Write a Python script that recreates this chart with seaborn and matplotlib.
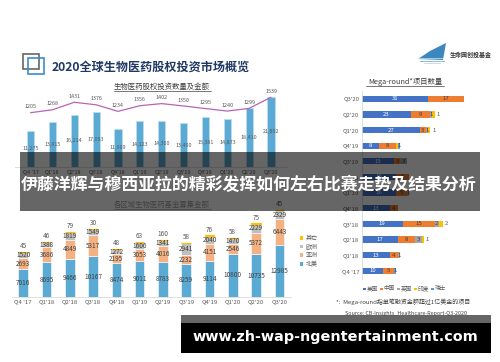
"""2020 global biotech equity investment slide, with the two overlay banners."""
import matplotlib
matplotlib.use('Agg')
import matplotlib.pyplot as plt
from matplotlib.patches import Rectangle, Polygon
import seaborn as sns

sns.set_theme(style='white')
plt.rcParams['font.family'] = ['Noto Sans CJK SC', 'DejaVu Sans']

# top chart
quarters = ["Q4 '17", "Q1'18", "Q2'18", "Q3'18", "Q4'18", "Q1'19", "Q2'19", "Q3'19", "Q4'19", "Q1'20", "Q2'20", "Q3'20"]
deal_amount = [11275, 13815, 16214, 17063, 11909, 14123, 14300, 13490, 15381, 14873, 18410, 21802]
deal_count = [1205, 1268, 1431, 1376, 1234, 1356, 1402, 1350, 1295, 1240, 1299, 1539]

# bottom chart
north_america = [7016, 8695, 9466, 10167, 8474, 9011, 8783, 8259, 9114, 10800, 10735, 12985]
asia = [2693, 3686, 4849, 5317, 2195, 3053, 4016, 2232, 4151, 2546, 5372, 6443]
europe = [1520, 1388, 1819, 1549, 1272, 1606, 1341, 2941, 2040, 1470, 2229, 2329]
other = [45, 46, 79, 30, 48, 63, 160, 58, 76, 58, 75, 45]
region_names = ['其它', '欧洲', '亚洲', '北美']

# right chart, top row first
mega_quarters = quarters[::-1]
mega_us = [31, 23, 27, 8, 15, 16, 16, 13, 19, 17, 13, 10]
mega_china = [17, 9, 3, 8, 3, 6, 5, 4, 15, 8, 4, 5]
mega_uk = [0, 1, 1, 0, 3, 0, 1, 0, 2, 3, 1, 0]
mega_india = [0, 1, 1, 1, 0, 0, 0, 0, 2, 1, 0, 0]
mega_swiss = [0, 0, 0, 1, 0, 0, 0, 0, 0, 0, 0, 1]
mega_names = ['美国', '中国', '英国', '印度', '瑞士']

BLUE = '#5BAAD3'
PEACH = '#F4B183'
GREY = '#BFBFBF'
GOLD = '#FFC000'
LABEL = '#595959'

W, H = 500, 362
fig = plt.figure(figsize=(5, 3.62), dpi=100, facecolor='white')


def px_axes(left, top, right, bottom):
    return fig.add_axes([left / W, 1 - bottom / H, (right - left) / W, (bottom - top) / H])


# amount bars + count line
ax = px_axes(14.6, 90, 287, 167)
sns.barplot(x=quarters, y=deal_amount, color=BLUE, saturation=1, width=0.33, edgecolor='#BBDDEE', linewidth=0.6, ax=ax)
ax.set_ylim(0, 23840)
for i, v in enumerate(deal_amount):
    ax.text(i, v / 2, f'{v:,}', ha='center', va='center', fontsize=3.9, color=LABEL)
ax.tick_params(axis='x', labelsize=3.9, labelcolor=LABEL, length=0, pad=1.5)
ax.yaxis.set_visible(False)
sns.despine(ax=ax, left=True)
ax.spines['bottom'].set_color('#D9D9D9')
ax.spines['bottom'].set_linewidth(0.6)

ax2 = ax.twinx()
sns.lineplot(x=list(range(12)), y=deal_count, color='#B565B5', linewidth=0.9, ax=ax2)
ax2.set_ylim(27, 1697)
ax2.axis('off')
for i, v in enumerate(deal_count):
    ax2.annotate(str(v), (i, v), xytext=(0, 4.2), textcoords='offset points', ha='center', va='center', fontsize=3.9, color=LABEL)

# stacked region bars
ax = px_axes(11.6, 200, 291, 297)
base = [0] * 12
for vals, col in zip([north_america, asia, europe, other], [BLUE, PEACH, GREY, GOLD]):
    lw = 0.9 if col == GOLD else 0.4
    edge = GOLD if col == GOLD else 'white'
    sns.barplot(x=quarters, y=vals, bottom=base, color=col, saturation=1, width=0.41, edgecolor=edge, linewidth=lw, ax=ax)
    for i, v in enumerate(vals):
        if col == GOLD:
            ax.annotate(str(v), (i, base[i] + v), xytext=(0, 4.2), textcoords='offset points', ha='center', va='center', fontsize=4.6, color=LABEL)
        else:
            ax.text(i, base[i] + v / 2, str(v), ha='center', va='center', fontsize=4.6, color='#404040')
    base = [b + v for b, v in zip(base, vals)]
ax.set_ylim(0, 24250)
ax.tick_params(axis='x', labelsize=4.3, labelcolor=LABEL, length=0, pad=1.5)
ax.yaxis.set_visible(False)
ax.patch.set_alpha(0)
sns.despine(ax=ax, left=True)
ax.spines['bottom'].set_color('#D9D9D9')
ax.spines['bottom'].set_linewidth(0.6)

# mega-round horizontal stack
ax = px_axes(362, 90.9, 490, 278.7)
mega_cols = ['#4472C4', '#ED7D31', '#A5A5A5', '#FFC000', '#5B9BD5']
left = [0] * 12
for vals, col in zip([mega_us, mega_china, mega_uk, mega_india, mega_swiss], mega_cols):
    sns.barplot(x=vals, y=mega_quarters, left=left, color=col, saturation=1, width=0.4, linewidth=0, ax=ax)
    for i, v in enumerate(vals):
        if v == 0:
            continue
        if col == '#FFC000':
            if mega_swiss[i] == 0:
                ax.text(left[i] + v + 1.6, i, str(v), ha='center', va='center', fontsize=4.3, color=LABEL)
            continue
        tc = 'white' if col == '#4472C4' else '#404040'
        ax.text(left[i] + v / 2, i, str(v), ha='center', va='center', fontsize=4.3, color=tc)
    left = [a + v for a, v in zip(left, vals)]
ax.set_xlim(0, 60)
ax.tick_params(axis='y', labelsize=4.3, labelcolor=LABEL, length=0, pad=2)
ax.xaxis.set_visible(False)
sns.despine(ax=ax, bottom=True)
ax.spines['left'].set_color('#D9D9D9')
ax.spines['left'].set_linewidth(0.6)

# full-figure layer in pixel coordinates: titles, legends, logo, banners
bg = fig.add_axes([0, 0, 1, 1], zorder=10)
bg.set_xlim(0, W)
bg.set_ylim(H, 0)
bg.axis('off')

bg.add_patch(Rectangle((22.5, 53.5), 16, 15.5, fill=False, ec='#666666', lw=1.2))
bg.add_patch(Rectangle((27.5, 58), 16, 15.5, fill=False, ec='#3D8CCB', lw=1.2))
bg.text(52, 67, '2020全球生物医药股权投资市场概览', fontsize=8.7, fontweight='bold', color='#1F3864', va='center')

for txt, cx, cy, half in [('生物医药股权投资数量及金额', 162, 87, 48.5),
                          ('各区域生物医药基金募集金额', 162, 205, 48.5),
                          ('Mega-round*项目数量', 405, 82, 39)]:
    bg.text(cx, cy, txt, fontsize=5.3, color='#404040', ha='center', va='center')
    bg.plot([cx - half, cx + half], [cy + 4.3, cy + 4.3], color='#404040', lw=0.5)

for name, col, y in zip(region_names, [GOLD, GREY, PEACH, BLUE], [238, 246.5, 255, 264]):
    bg.add_patch(Rectangle((300, y - 1.7), 3.4, 3.4, color=col, lw=0))
    bg.text(305.5, y, name, fontsize=4.3, color=LABEL, va='center')

for i, (name, col) in enumerate(zip(mega_names, mega_cols)):
    x = 362.7 + 17 * i
    bg.add_patch(Rectangle((x, 287.5), 2.8, 2.8, color=col, lw=0))
    bg.text(x + 4, 289, name, fontsize=4.1, color=LABEL, va='center')

bg.text(336.5, 302, '*:  Mega-round指单笔融资金额超过1亿美金的项目', fontsize=4.3, color='#404040', va='center')
bg.text(345, 313, 'Source: CB-Insights_Healthcare-Report-Q3-2020', fontsize=3.9, color='#404040', va='center', style='italic')

# logo
bg.add_patch(Polygon([(418, 59), (430, 51), (446, 43), (443, 60)], color='#3C87BE', lw=0))
bg.plot([418, 446], [57.5, 57.5], color='white', lw=0.4)
bg.plot([420, 444], [60.5, 60.5], color='#8CBBDD', lw=0.7)
bg.plot([424, 440], [62.5, 62.5], color='#BBD8EA', lw=0.6)
bg.text(450, 54.5, '生命园创投基金', fontsize=4.3, fontweight='bold', color='#333333', va='center')

# banners
bg.add_patch(Rectangle((20, 152), 460, 59, color='black', alpha=0.6, lw=0))
bg.text(249, 185, '伊藤洋辉与穆西亚拉的精彩发挥如何左右比赛走势及结果分析', fontsize=12.2, fontweight='bold', color='white', ha='center', va='center')
bg.add_patch(Rectangle((181, 315), 310, 8, color='black', alpha=0.6, lw=0))
bg.add_patch(Rectangle((181, 323), 310, 30, color='black', lw=0))
bg.text(335, 337.5, 'www.zh-wap-ngentertainment.com', fontsize=10.4, fontweight='bold', color='white', ha='center', va='center', family='DejaVu Sans')

fig.savefig('out.png', dpi=100)
plt.close()
